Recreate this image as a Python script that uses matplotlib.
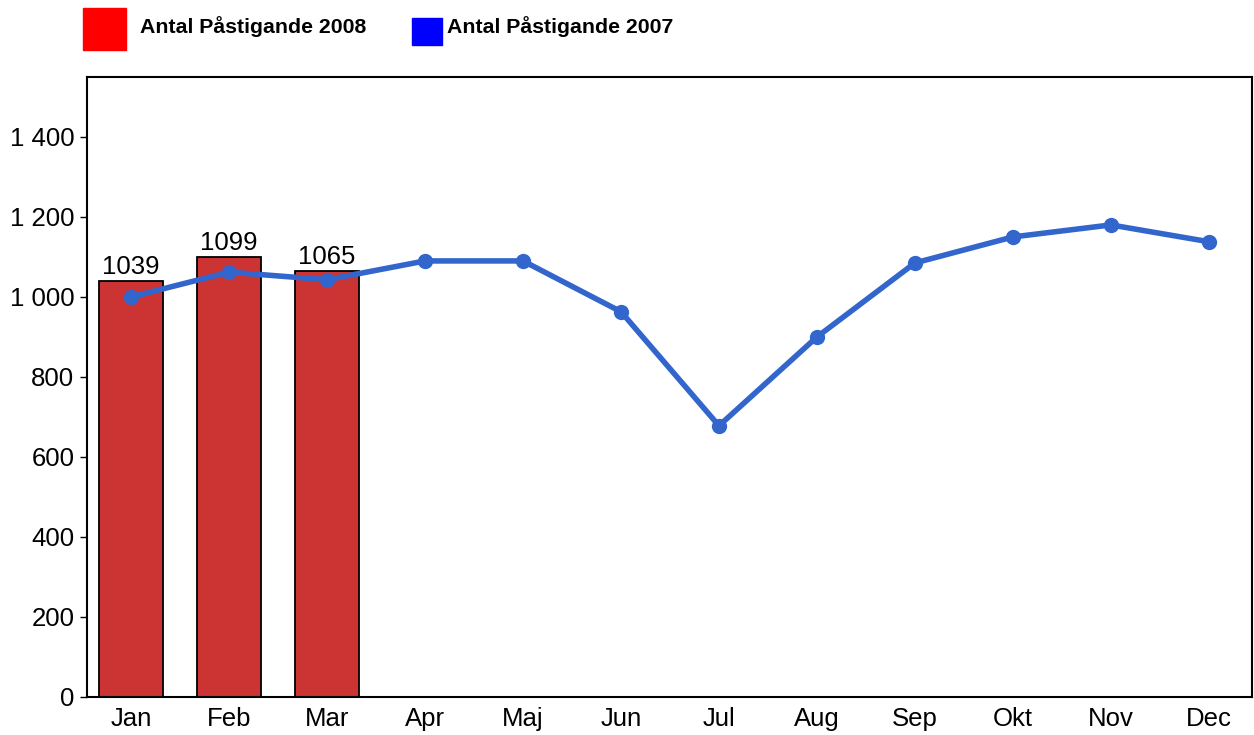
import numpy as np
import matplotlib.pyplot as plt
from matplotlib.patches import Rectangle

plt.rcParams['font.family'] = ['Liberation Sans', 'DejaVu Sans']

months = ["Jan", "Feb", "Mar", "Apr", "Maj", "Jun", "Jul", "Aug", "Sep", "Okt", "Nov", "Dec"]
antal_2008 = [1039, 1099, 1065]
antal_2007 = [1000, 1062, 1043, 1090, 1090, 963, 678, 900, 1085, 1150, 1180, 1138]
yticks = [0, 200, 400, 600, 800, 1000, 1200, 1400]

bar_color = "#cc3333"
line_color = "#3366cc"

fig = plt.figure(figsize=(12.54, 7.35), dpi=100)
ax = fig.add_axes([87 / 1254, 1 - 697 / 735, (1252 - 87) / 1254, (697 - 76.5) / 735])

x = np.arange(len(months))
bars = ax.bar(x[:len(antal_2008)], antal_2008, width=0.65, color=bar_color,
              edgecolor="black", linewidth=1.3, zorder=2)
for b, v in zip(bars, antal_2008):
    ax.text(b.get_x() + b.get_width() / 2, v + 6, str(v), ha="center", va="bottom",
            fontsize=18.5, zorder=4)

ax.plot(x, antal_2007, color=line_color, linewidth=4, marker="o", markersize=10,
        zorder=3)

ax.set_xlim(-0.45, 11.44)
ax.set_ylim(0, 1551)
ax.set_xticks(x)
ax.set_xticklabels(months, fontsize=18.5)
ax.set_yticks(yticks)
ax.set_yticklabels([f"{v:,}".replace(",", " ") for v in yticks], fontsize=18.5)
ax.tick_params(axis="x", length=0, pad=7)
ax.tick_params(axis="y", length=5, width=1, pad=4)
for s in ax.spines.values():
    s.set_linewidth(1.5)

# legend drawn at the top of the figure
fig.patches.append(Rectangle((83 / 1254, 1 - 50 / 735), 43 / 1254, 42 / 735,
                             transform=fig.transFigure, color="#ff0000"))
fig.text(140 / 1254, 1 - 27 / 735, "Antal Påstigande 2008", fontsize=15.3,
         fontweight="bold", va="center", ha="left")
fig.patches.append(Rectangle((412 / 1254, 1 - 45 / 735), 30 / 1254, 27 / 735,
                             transform=fig.transFigure, color="#0000ff"))
fig.text(447 / 1254, 1 - 27 / 735, "Antal Påstigande 2007", fontsize=15.3,
         fontweight="bold", va="center", ha="left")

fig.savefig("out.png", dpi=100)
